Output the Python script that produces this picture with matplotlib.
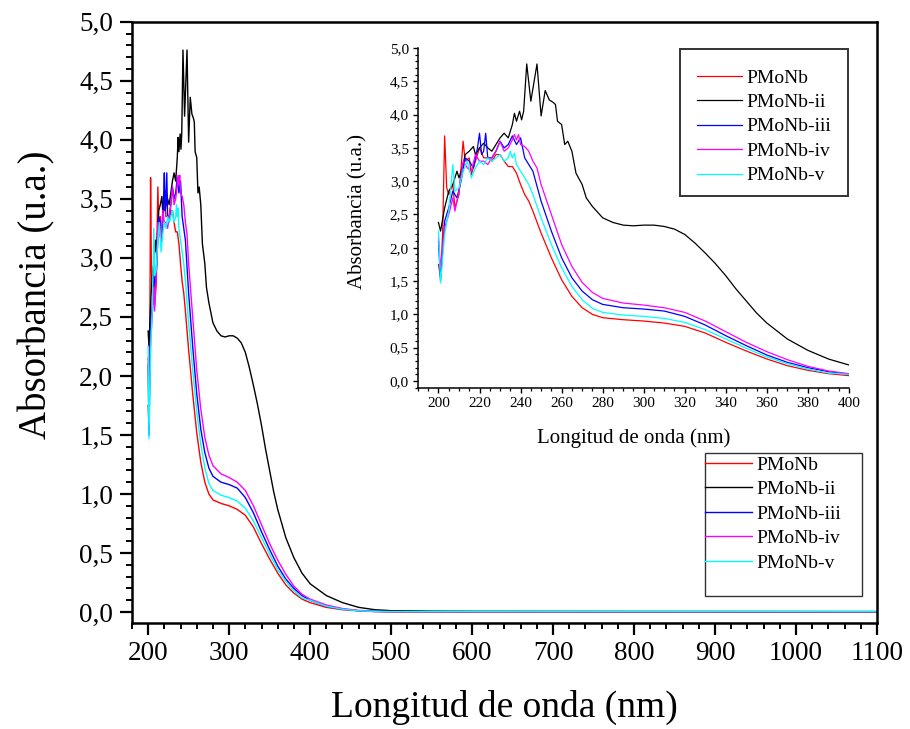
import matplotlib
matplotlib.use('Agg')
import matplotlib.pyplot as plt
from matplotlib.ticker import MultipleLocator, FuncFormatter
from matplotlib.patches import Rectangle

plt.rcParams['font.family'] = ['Liberation Serif', 'DejaVu Serif']

# PMoNb (red)
wl_i = [200, 201, 202, 203, 204, 205, 207, 208, 210, 212, 213, 215, 216, 218, 220, 222, 224,
        226, 228, 230, 232, 234, 236, 238, 240, 242, 244, 246, 250, 255, 260, 265, 270, 275,
        280, 290, 300, 310, 320, 330, 340, 350, 360, 370, 380, 390, 400, 420, 440, 460, 480,
        500, 600, 800, 1100]
a_i = [1.75, 1.55, 2.2, 3.68, 2.9, 2.8, 2.95, 2.6, 2.8, 3.6, 3.3, 3.35, 3.1, 3.3, 3.5, 3.35, 3.35,
       3.3, 3.4, 3.4, 3.3, 3.22, 3.22, 3.12, 2.95, 2.8, 2.7, 2.55, 2.22, 1.85, 1.52, 1.27, 1.1, 1.0,
       0.95, 0.92, 0.9, 0.87, 0.82, 0.72, 0.58, 0.45, 0.33, 0.23, 0.16, 0.11, 0.08, 0.04, 0.02, 0.01, 0.004,
       0.002, 0.001, 0.0, 0.0]

# PMoNb-ii (black)
wl_ii = [200, 201, 203, 205, 207, 209, 210, 212, 213, 215, 217, 218, 220, 222, 224, 226, 228,
         230, 232, 234, 236, 237, 238, 239.5, 240.5, 241.5, 243, 245, 248, 250, 252, 254, 256,
         257, 258, 260, 261.5, 263, 265, 267, 270, 272, 275, 280, 285, 290, 295, 300, 305,
         310, 315, 320, 325, 330, 335, 340, 345, 350, 355, 360, 370, 380, 390, 400, 420, 440,
         460, 480, 500, 550, 600, 800, 1100]
a_ii = [2.38, 2.25, 2.6, 2.85, 2.95, 3.15, 3.05, 3.25, 3.4, 3.45, 3.52, 3.4, 3.5, 3.57, 3.5, 3.45, 3.55,
        3.65, 3.72, 3.65, 3.85, 4.02, 3.9, 4.05, 3.92, 4.05, 4.76, 4.2, 4.76, 3.98, 4.36, 4.22, 4.18,
        4.15, 3.9, 3.85, 3.55, 3.6, 3.45, 3.12, 2.95, 2.75, 2.62, 2.45, 2.38, 2.34, 2.33, 2.34, 2.34,
        2.32, 2.28, 2.2, 2.07, 1.92, 1.76, 1.58, 1.38, 1.2, 1.02, 0.87, 0.63, 0.46, 0.33, 0.24, 0.14, 0.08,
        0.04, 0.02, 0.012, 0.008, 0.007, 0.006, 0.005]

# PMoNb-iii (blue)
wl_iii = [200, 201, 203, 205, 207, 209, 211, 213, 215, 217, 219, 220, 221, 222, 223, 224, 226,
          228, 230, 232, 234, 236, 238, 240, 242, 244, 246, 250, 255, 260, 265, 270, 275, 280,
          290, 300, 310, 320, 330, 340, 350, 360, 370, 380, 390, 400, 420, 440, 460, 480, 500,
          600, 800, 1100]
a_iii = [2.1, 1.5, 2.4, 2.6, 2.85, 2.75, 3.0, 3.35, 3.3, 3.2, 3.5, 3.72, 3.4, 3.45, 3.72, 3.35, 3.35,
         3.45, 3.6, 3.5, 3.55, 3.68, 3.55, 3.65, 3.35, 3.25, 3.15, 2.7, 2.25, 1.85, 1.55, 1.35, 1.22, 1.15,
         1.1, 1.08, 1.05, 0.97, 0.84, 0.68, 0.53, 0.39, 0.28, 0.2, 0.14, 0.1, 0.05, 0.025, 0.012, 0.006, 0.004,
         0.003, 0.003, 0.003]

# PMoNb-iv (magenta)
wl_iv = [200, 201, 203, 205, 207, 208, 210, 212, 214, 216, 218, 220, 222, 224, 226, 228, 230,
         232, 234, 236, 237, 238, 239, 240, 242, 244, 246, 248, 250, 255, 260, 265, 270, 275,
         280, 290, 300, 310, 320, 330, 340, 350, 360, 370, 380, 390, 400, 420, 440, 460, 480,
         500, 600, 800, 1100]
a_iv = [2.15, 1.7, 2.3, 2.5, 2.75, 2.55, 2.85, 3.3, 3.2, 3.15, 3.4, 3.3, 3.3, 3.25, 3.35, 3.45, 3.6,
        3.45, 3.5, 3.62, 3.7, 3.62, 3.7, 3.55, 3.52, 3.45, 3.3, 3.2, 2.95, 2.5, 2.05, 1.72, 1.48, 1.33,
        1.24, 1.17, 1.14, 1.1, 1.03, 0.9, 0.74, 0.58, 0.44, 0.32, 0.22, 0.15, 0.11, 0.06, 0.03, 0.014, 0.007,
        0.004, 0.003, 0.003, 0.003]

# PMoNb-v (cyan)
wl_v = [200, 201, 203, 205, 207, 208, 210, 212, 214, 216, 218, 220, 222, 224, 226, 228, 230,
        232, 234, 235, 236, 237, 238, 240, 242, 244, 246, 250, 255, 260, 265, 270, 275, 280,
        290, 300, 310, 320, 330, 340, 350, 360, 370, 380, 390, 400, 420, 440, 460, 480, 500,
        600, 800, 1100]
a_v = [2.25, 1.47, 2.2, 2.55, 3.25, 2.85, 2.9, 3.15, 3.3, 3.05, 3.2, 3.3, 3.25, 3.35, 3.3, 3.35, 3.4,
       3.3, 3.35, 3.45, 3.35, 3.42, 3.25, 3.15, 3.05, 2.95, 2.8, 2.45, 2.05, 1.7, 1.42, 1.22, 1.09, 1.03,
       0.99, 0.97, 0.94, 0.88, 0.77, 0.63, 0.49, 0.36, 0.26, 0.18, 0.12, 0.1, 0.05, 0.024, 0.011, 0.005, 0.004,
       0.004, 0.004, 0.004]

series = [
    ('PMoNb', wl_i, a_i, '#ff0000'),
    ('PMoNb-ii', wl_ii, a_ii, '#000000'),
    ('PMoNb-iii', wl_iii, a_iii, '#0000ff'),
    ('PMoNb-iv', wl_iv, a_iv, '#ff00ff'),
    ('PMoNb-v', wl_v, a_v, '#00ffff'),
]

comma = FuncFormatter(lambda v, p: ('%.1f' % v).replace('.', ','))


def draw_legend(ax, box, anchor, fs, hlen, lw_box):
    # frame drawn by hand so it can keep the empty space at the bottom
    ax.add_patch(Rectangle((box[0], box[1]), box[2], box[3], transform=ax.transAxes,
                           fill=False, edgecolor='#333333', lw=lw_box, zorder=5,
                           clip_on=False))
    leg = ax.legend(loc='upper left', bbox_to_anchor=anchor, frameon=False,
                    fontsize=fs, borderpad=0, borderaxespad=0, handlelength=hlen,
                    handletextpad=0.25, labelspacing=0.35)
    return leg


fig = plt.figure(figsize=(9.1, 7.29), dpi=100)

# main axes
ax = fig.add_axes([0.145, 0.1458, 0.8187, 0.8244])
for name, wl, a, c in series:
    ax.plot(wl, a, color=c, lw=1.0, label=name)
ax.set_xlim(180, 1100)
ax.set_ylim(-0.09, 5.0)
ax.xaxis.set_major_locator(MultipleLocator(100))
ax.xaxis.set_minor_locator(MultipleLocator(20))
ax.yaxis.set_major_locator(MultipleLocator(0.5))
ax.yaxis.set_minor_locator(MultipleLocator(0.1))
ax.yaxis.set_major_formatter(comma)
ax.tick_params(which='major', direction='out', length=8.5, width=1.6, labelsize=19.5, pad=5)
ax.tick_params(which='minor', direction='out', length=4.5, width=1.4)
for s in ax.spines.values():
    s.set_linewidth(1.8)
ax.set_xlabel('Longitud de onda (nm)', fontsize=27, labelpad=17)
ax.set_ylabel('Absorbancia (u.a.)', fontsize=28)
ax.yaxis.set_label_coords(-0.103, 0.545)
draw_legend(ax, (0.769, 0.044, 0.211, 0.238), (0.769, 0.277), 14, 2.4, 1.0)

# inset
ins = fig.add_axes([0.4593, 0.4678, 0.4736, 0.4664])
for name, wl, a, c in series:
    ins.plot(wl, a, color=c, lw=0.9, label=name)
ins.set_xlim(190, 400)
ins.set_ylim(-0.105, 5.0)
ins.xaxis.set_major_locator(MultipleLocator(20))
ins.xaxis.set_minor_locator(MultipleLocator(5))
ins.yaxis.set_major_locator(MultipleLocator(0.5))
ins.yaxis.set_minor_locator(MultipleLocator(0.1))
ins.yaxis.set_major_formatter(comma)
ins.spines['top'].set_visible(False)
ins.spines['right'].set_visible(False)
ins.spines['left'].set_linewidth(1.1)
ins.spines['bottom'].set_linewidth(1.1)
ins.tick_params(which='major', direction='out', length=3.5, width=1.0, labelsize=11, pad=3)
ins.tick_params(which='minor', direction='out', length=2.2, width=0.9)
ins.set_xlabel('Longitud de onda (nm)', fontsize=15, labelpad=13)
ins.set_ylabel('Absorbancia (u.a.)', fontsize=15)
ins.yaxis.set_label_coords(-0.118, 0.52)
draw_legend(ins, (0.608, 0.565, 0.39, 0.432), (0.647, 0.938), 14, 2.3, 1.4)

fig.savefig('out.png', dpi=100)
